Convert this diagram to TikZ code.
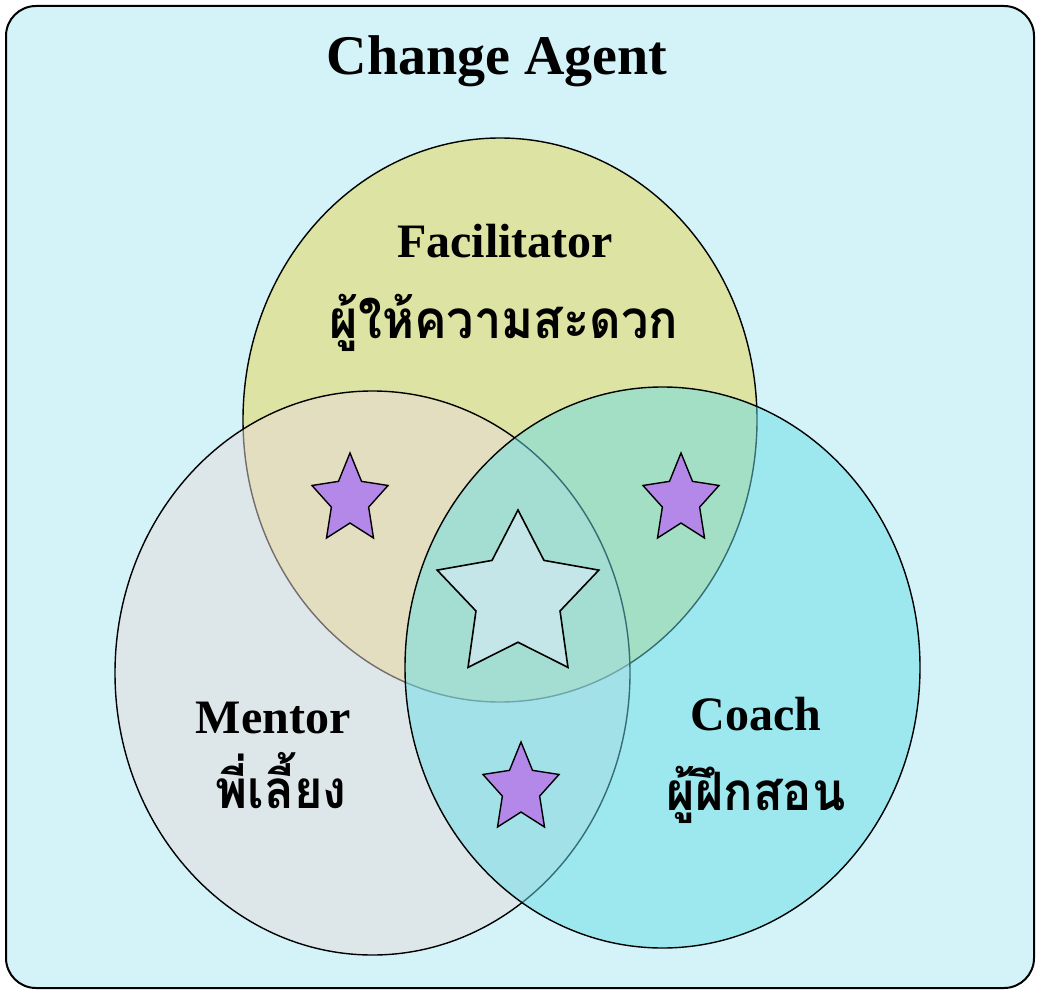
\documentclass[tikz,border=0pt]{standalone}
\usepackage{fontspec}
\setmainfont{Liberation Serif}
\newfontfamily\thaifont[Script=Thai, FakeStretch=0.92]{Loma}
\usetikzlibrary{positioning}

\definecolor{agentbg}{RGB}{212,243,248}
\definecolor{facfill}{RGB}{221,227,162}
\definecolor{menfill}{RGB}{231,219,220}
\definecolor{coafill}{RGB}{104,221,230}
\definecolor{starpurple}{RGB}{180,136,232}
\definecolor{starpale}{RGB}{197,230,232}

\tikzset{
    role/.style = {draw = black, line width = 1.4pt},
    title/.style = {font = \fontsize{56}{60}\selectfont\bfseries, anchor = base},
    english/.style = {font = \fontsize{48}{52}\selectfont\bfseries, anchor = base},
    thai/.style = {font = \fontsize{53}{56}\selectfont\thaifont\bfseries, anchor = base},
    smallstar/.style = {draw, line width = 1.4pt, fill = starpurple},
    bigstar/.style = {draw, line width = 1.6pt, fill = starpale}
}

% five pointed star: centre, x radius, y radius, inner ratio, style
\newcommand{\venstar}[5]{%
    \draw[#5, shift = {#1}]
        (-90:#2 and #3)
        \foreach \k in {1,...,9}{
            \ifodd\k -- ({-90+36*\k}:{#4*#2} and {#4*#3})
            \else -- ({-90+36*\k}:#2 and #3)\fi
        } -- cycle;
}

\begin{document}
\begin{tikzpicture}[x = 1pt, y = -1pt]

\useasboundingbox (0,0) rectangle (1038,992);
\draw[fill = agentbg, line width = 2pt, rounded corners = 30pt] (6,6) rectangle (1034,988);

% the three roles
\draw[role, fill = facfill] (500,420) ellipse (257 and 282);
\draw[role, fill = menfill, fill opacity = 0.5] (372.5,673) ellipse (257.5 and 282);
\draw[role, fill = coafill, fill opacity = 0.5] (662.5,667.5) ellipse (257.5 and 280.5);

% stars
\venstar{(350,500)}{40}{47}{0.49}{smallstar}
\venstar{(681,500)}{40}{47}{0.49}{smallstar}
\venstar{(521,789)}{40}{47}{0.49}{smallstar}
\venstar{(518,597)}{85}{87}{0.52}{bigstar}

% labels
\node[title] (agent) at (497,75) {Change Agent};
\node[english] (facilitator) at (505,258) {Facilitator};
\node[thai] (facilitatorth) at (504,338) {ผู้ให้ความสะดวก};
\node[english] (mentor) at (273,733) {Mentor};
\node[thai] (mentorth) at (281,808) {พี่เลี้ยง};
\node[english] (coach) at (756,730) {Coach};
\node[thai] (coachth) at (756,810) {ผู้ฝึกสอน};

\end{tikzpicture}
\end{document}
